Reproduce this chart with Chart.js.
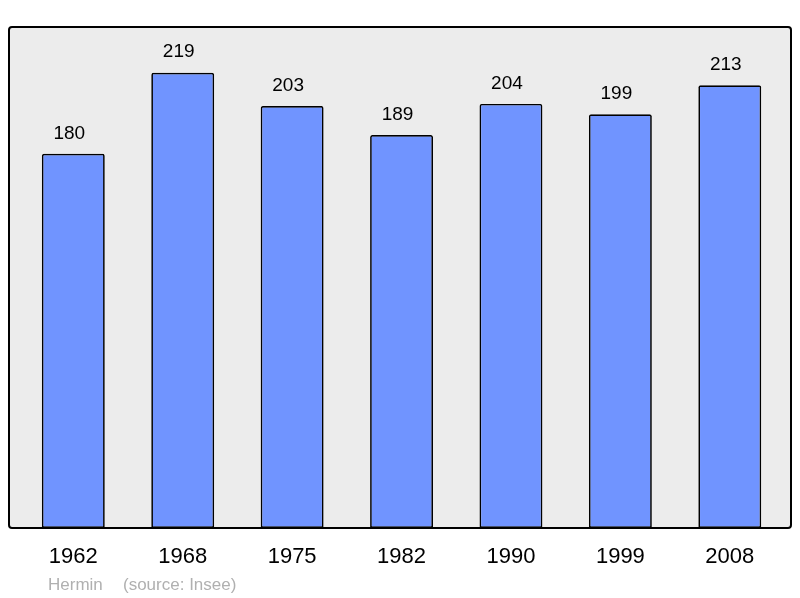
<!DOCTYPE html>
<html>
<head>
<meta charset="utf-8">
<script src="https://cdn.jsdelivr.net/npm/chart.js@4.4.0/dist/chart.umd.min.js"></script>
<style>
  html, body { margin: 0; padding: 0; background: #ffffff; }
  #wrap { width: 800px; height: 598px; position: relative; }
</style>
</head>
<body>
<div id="wrap"><canvas id="popChart" width="800" height="598"></canvas></div>
<script>
// population data
var years = ['1962', '1968', '1975', '1982', '1990', '1999', '2008'];
var population = [180, 219, 203, 189, 204, 199, 213];
var yMax = 241;
var footerAuthor = 'Hermin';
var footerSource = '(source: Insee)';

// grey panel behind the bars, with black frame drawn on top
var panelPlugin = {
    id: 'panel',
    beforeDatasetsDraw: function(chart) {
        var a = chart.chartArea, ctx = chart.ctx;
        ctx.save();
        ctx.fillStyle = '#ececec';
        ctx.beginPath();
        ctx.roundRect(a.left - 9.6, a.top, a.right - a.left + 16.1, a.bottom - a.top, 3);
        ctx.fill();
        ctx.restore();
    },
    afterDatasetsDraw: function(chart) {
        var a = chart.chartArea, ctx = chart.ctx;
        ctx.save();
        ctx.strokeStyle = '#000000';
        ctx.lineWidth = 2;
        ctx.beginPath();
        ctx.roundRect(a.left - 9.6, a.top, a.right - a.left + 16.1, a.bottom - a.top, 3);
        ctx.stroke();

        // value labels above bars
        var meta = chart.getDatasetMeta(0);
        ctx.fillStyle = '#000000';
        ctx.font = '19px "Liberation Sans", Arial, sans-serif';
        ctx.textAlign = 'center';
        ctx.textBaseline = 'middle';
        meta.data.forEach(function(bar, i) {
            ctx.fillText(population[i], bar.x - 4, bar.y - 20.5);
        });

        // footer credit
        ctx.fillStyle = '#b0b0b0';
        ctx.font = '17px "Liberation Sans", Arial, sans-serif';
        ctx.textAlign = 'left';
        ctx.fillText(footerAuthor, 48, 585);
        ctx.fillText(footerSource, 123, 585);
        ctx.restore();
    }
};

var popChart = new Chart(document.getElementById('popChart'), {
    type: 'bar',
    data: {
        labels: years,
        datasets: [{
            data: population,
            backgroundColor: '#7094ff',
            borderColor: '#000000',
            borderWidth: 1.7,
            borderSkipped: false,
            borderRadius: { topLeft: 2, topRight: 2 },
            barPercentage: 0.575,
            categoryPercentage: 1
        }]
    },
    options: {
        responsive: false,
        animation: false,
        layout: {
            padding: { left: 18.6, right: 15.5, top: 27, bottom: 12.6 }
        },
        scales: {
            x: {
                grid: { display: false, drawTicks: false },
                border: { display: false },
                ticks: {
                    color: '#000000',
                    padding: 15.5,
                    font: { family: '"Liberation Sans", Arial, sans-serif', size: 22 }
                }
            },
            y: {
                display: false,
                min: 0,
                max: yMax
            }
        },
        plugins: {
            legend: { display: false },
            tooltip: { enabled: false }
        }
    },
    plugins: [panelPlugin]
});
</script>
</body>
</html>
